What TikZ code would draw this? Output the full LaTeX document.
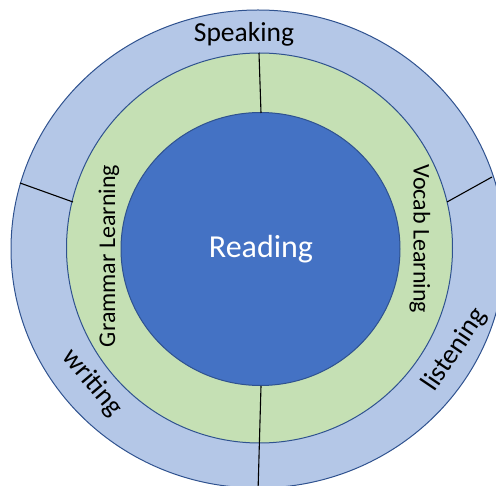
\documentclass[tikz,border=0pt]{standalone}
\usepackage{fontspec}
\setmainfont{Carlito}
\definecolor{skillblue}{HTML}{B4C7E7}
\definecolor{learngreen}{HTML}{C5E0B4}
\definecolor{coreblue}{HTML}{4472C4}
\definecolor{edgeblue}{HTML}{2F528F}

\begin{document}
\begin{tikzpicture}[
   x=1pt, y=-1pt,
   ring/.style={
     fill=#1,
     draw=edgeblue,
     line width=1pt,
    },
   divider/.style={
     draw=black,
     line width=1.1pt,
    },
   skill/.style={
     font=\fontsize{27.5}{32}\selectfont,
     inner sep=0pt,
    },
   learn/.style={
     font=\fontsize{24}{28}\selectfont,
     inner sep=0pt,
    },
  ]
\useasboundingbox (0,0) rectangle (496,486);
\clip (0,0) rectangle (496,486);

\draw[ring=skillblue] (258,249) ellipse [x radius=247pt, y radius=239pt];
\draw[ring=learngreen] (259.5,248) ellipse [x radius=193pt, y radius=195pt];
\draw[ring=coreblue] (260.5,249) ellipse [x radius=139.5pt, y radius=136.5pt];

\coordinate (topA) at (259,53);
\coordinate (topB) at (261,113);
\coordinate (botA) at (261,386);
\coordinate (botB) at (258,492);
\coordinate (leftA) at (20,183);
\coordinate (leftB) at (73,202);
\coordinate (rightA) at (447,202);
\coordinate (rightB) at (492,177);
\draw[divider] (topA) -- (topB);
\draw[divider] (botA) -- (botB);
\draw[divider] (leftA) -- (leftB);
\draw[divider] (rightA) -- (rightB);

\node[skill] (speaking) at (244,34) {Speaking};
\node[skill, rotate=-50] (writing) at (92,383) {writing};
\node[skill, rotate=56] (listening) at (455,350) {listening};
\node[learn, rotate=90] (grammar) at (109,256) {Grammar Learning};
\node[learn, rotate=-90] (vocab) at (420,239) {Vocab Learning};
\node[font=\fontsize{32}{38}\selectfont, text=white, inner sep=0pt] (reading) at (261,249) {Reading};
\end{tikzpicture}
\end{document}
